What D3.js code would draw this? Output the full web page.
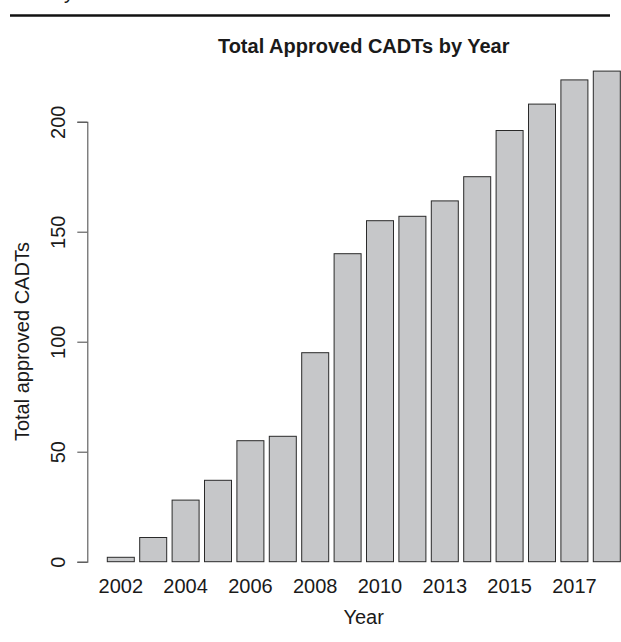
<!DOCTYPE html>
<html>
<head>
<meta charset="utf-8">
<script src="https://cdn.jsdelivr.net/npm/d3@7"></script>
<style>
  html, body { margin: 0; padding: 0; background: #fff; }
  svg { display: block; }
  text { font-family: "Liberation Sans", Arial, Helvetica, sans-serif; fill: #1a1a1a; }
</style>
</head>
<body>
<svg id="chart" width="621" height="642"></svg>
<script>
// Data
const years = ["2002","2003","2004","2005","2006","2007","2008","2009","2010","2012","2013","2014","2015","2016","2017","2018"];
const totals = [2, 11, 28, 37, 55, 57, 95, 140, 155, 157, 164, 175, 196, 208, 219, 223];
const shownYearLabels = ["2002","2004","2006","2008","2010","2013","2015","2017"];
const yTicks = [0, 50, 100, 150, 200];
const titleText = "Total Approved CADTs by Year";
const xLabel = "Year";
const yLabel = "Total approved CADTs";

const svg = d3.select("#chart");

// top rule of the page scan
svg.append("line")
  .attr("x1", 10).attr("x2", 610)
  .attr("y1", 15.5).attr("y2", 15.5)
  .attr("stroke", "#111").attr("stroke-width", 2.3);
svg.append("text")
  .attr("x", 64).attr("y", -1)
  .attr("font-size", 20)
  .text("y");

const x = d3.scaleBand()
  .domain(years)
  .range([107.3, 620.3])
  .paddingInner(1 - 27 / 32.4)
  .paddingOuter(0);

const y = d3.scaleLinear()
  .domain([0, 200])
  .range([561.7, 121.7]);

// bars
svg.append("g")
  .selectAll("rect")
  .data(years.map((yr, i) => ({ yr, v: totals[i] })))
  .join("rect")
  .attr("x", d => x(d.yr))
  .attr("y", d => y(d.v))
  .attr("width", x.bandwidth())
  .attr("height", d => y(0) - y(d.v))
  .attr("fill", "#c6c7c9")
  .attr("stroke", "#2a2a2a")
  .attr("stroke-width", 1);

// y axis
const yAxis = d3.axisLeft(y).tickValues(yTicks).tickSize(10).tickPadding(0).tickFormat(d3.format("d"));
const gy = svg.append("g").attr("transform", "translate(87.3,0)").call(yAxis);
gy.select(".domain").attr("stroke", "#555").attr("stroke-width", 1.1);
gy.selectAll(".tick line").attr("stroke", "#555").attr("stroke-width", 1.1);
gy.selectAll(".tick text")
  .attr("font-size", 20)
  .attr("font-family", "Liberation Sans, Arial, sans-serif")
  .attr("fill", "#1a1a1a")
  .attr("text-anchor", "middle")
  .attr("dy", null)
  .attr("x", null)
  .attr("transform", "translate(-22,0) rotate(-90)")
  .attr("y", 0);

// x axis labels (no line, like R barplot)
const xAxis = d3.axisBottom(x).tickValues(shownYearLabels).tickSize(0).tickPadding(0);
const gx = svg.append("g").attr("transform", "translate(0,575)").call(xAxis);
gx.select(".domain").remove();
gx.selectAll(".tick text")
  .attr("font-size", 20)
  .attr("font-family", "Liberation Sans, Arial, sans-serif")
  .attr("fill", "#1a1a1a")
  .attr("dy", null)
  .attr("y", 18);

// title
svg.append("text")
  .attr("x", 363.7).attr("y", 53)
  .attr("text-anchor", "middle")
  .attr("font-size", 20)
  .attr("font-weight", "bold")
  .text(titleText);

// x label
svg.append("text")
  .attr("x", 363.7).attr("y", 624)
  .attr("text-anchor", "middle")
  .attr("font-size", 20)
  .text(xLabel);

// y label
svg.append("text")
  .attr("transform", "translate(29,341.6) rotate(-90)")
  .attr("text-anchor", "middle")
  .attr("font-size", 20)
  .text(yLabel);
</script>
</body>
</html>
